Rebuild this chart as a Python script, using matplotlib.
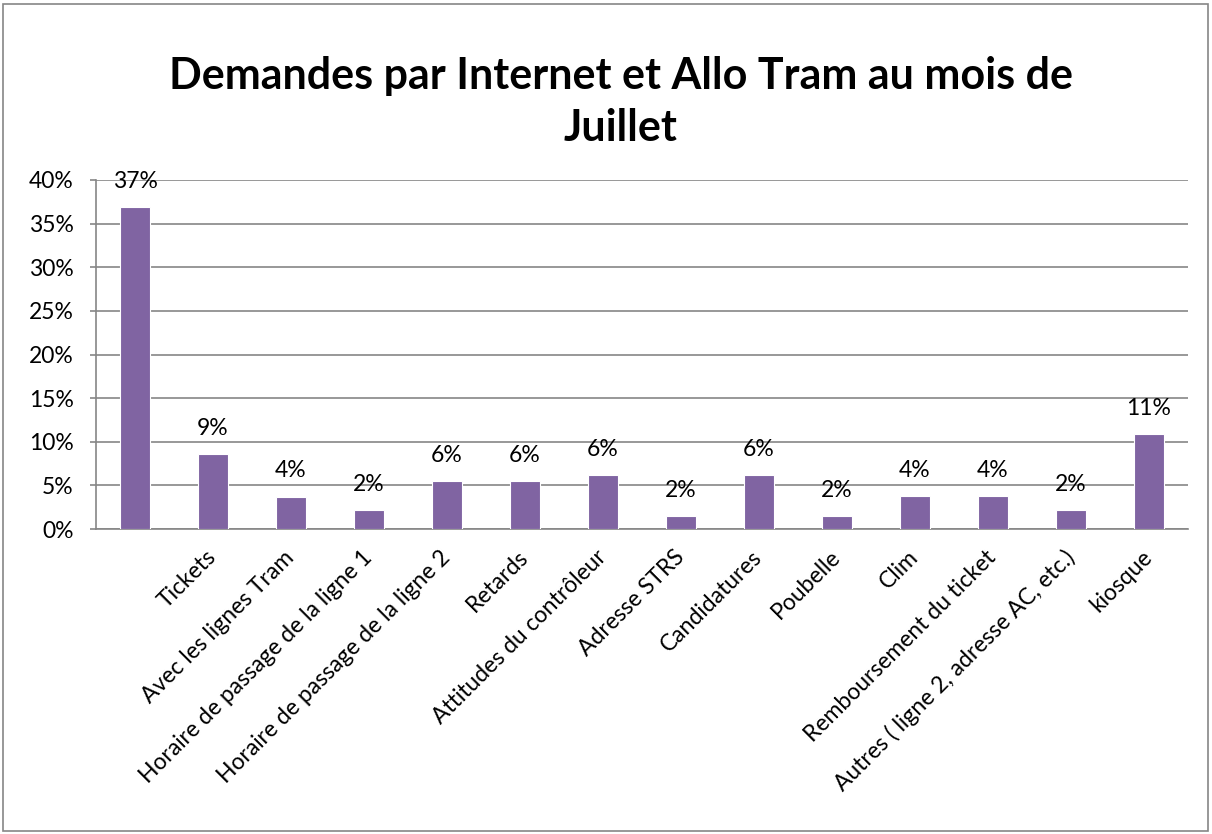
import matplotlib
matplotlib.use("Agg")
import matplotlib.pyplot as plt
from matplotlib.patches import Rectangle
from matplotlib.ticker import PercentFormatter, MultipleLocator
import matplotlib.patheffects as pe

# données (la 1re barre n'a pas de libellé visible)
categories = ["", "Tickets", "Avec les lignes Tram", "Horaire de passage de la ligne 1",
              "Horaire de passage de la ligne 2", "Retards", "Attitudes du contrôleur",
              "Adresse STRS", "Candidatures", "Poubelle", "Clim",
              "Remboursement du ticket", "Autres ( ligne 2, adresse AC, etc.)", "kiosque"]
values = [36.9, 8.6, 3.7, 2.2, 5.5, 5.5, 6.2, 1.5, 6.2, 1.5, 3.8, 3.8, 2.2, 10.9]
labels = ["37%", "9%", "4%", "2%", "6%", "6%", "6%", "2%", "6%", "2%", "4%", "4%", "2%", "11%"]
title = "Demandes par Internet et Allo Tram au mois de\nJuillet"

plt.rcParams['font.family'] = ['Lato', 'DejaVu Sans']

W, H = 1212, 834
fig = plt.figure(figsize=(W / 100, H / 100), dpi=100)
fig.patches.append(Rectangle((3 / W, 3 / H), (W - 7) / W, (H - 7) / H,
                             transform=fig.transFigure, fill=False,
                             edgecolor='#868686', linewidth=1.2))

ax = fig.add_axes([96 / W, (H - 529) / H, (1188 - 96) / W, (529 - 180) / H])

x = range(len(values))
bars = ax.bar(x, values, width=0.375, color='#8064A2', edgecolor='white',
              linewidth=0.8, zorder=3)
for b in bars:
    b.set_path_effects([pe.SimplePatchShadow(offset=(0, -2), shadow_rgbFace='#999999',
                                             alpha=0.35), pe.Normal()])

for xi, v, lab in zip(x, values, labels):
    ax.annotate(lab, (xi, v), xytext=(0, 11), textcoords='offset points',
                ha='center', va='bottom', fontsize=16.5, color='black')

ax.set_xlim(-0.5, len(values) - 0.5)
ax.set_ylim(0, 40)
ax.yaxis.set_major_locator(MultipleLocator(5))
ax.yaxis.set_major_formatter(PercentFormatter(decimals=0))
ax.grid(axis='y', color='#868686', linewidth=1.2, zorder=0)
ax.set_axisbelow(True)

for s in ['top', 'right']:
    ax.spines[s].set_visible(False)
for s in ['left', 'bottom']:
    ax.spines[s].set_color('#868686')
    ax.spines[s].set_linewidth(1.2)

ax.tick_params(axis='y', length=4, color='#868686', width=1.2, labelsize=16.5, pad=12)
ax.tick_params(axis='x', length=0, labelsize=16.5, pad=18)
ax.set_xticks(list(x))
ax.set_xticklabels(categories, rotation=45, ha='right', va='center',
                   rotation_mode='anchor')

fig.text(0.512, 0.878, title, ha='center', va='center', fontsize=31,
         fontweight='bold', linespacing=1.35)

fig.savefig("out.png", dpi=100)
